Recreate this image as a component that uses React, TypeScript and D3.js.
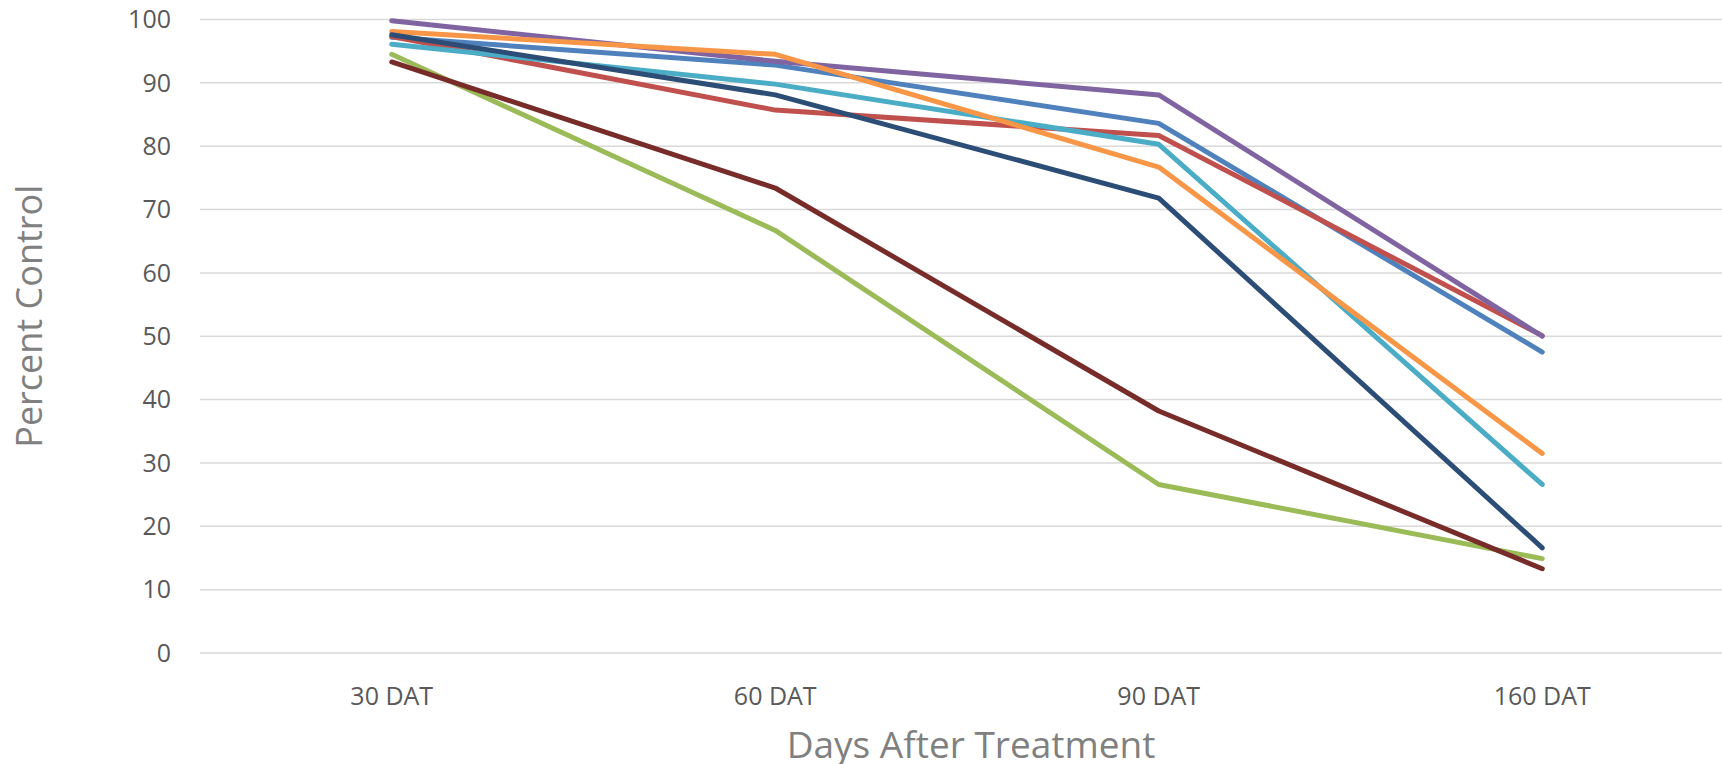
import React from 'react'
import * as d3 from 'd3'

// categories on the x axis
const days = ['30 DAT', '60 DAT', '90 DAT', '160 DAT']
const yTicks = [0, 10, 20, 30, 40, 50, 60, 70, 80, 90, 100]

// series values (percent control), in draw order
const blueVals = [97.2, 92.8, 83.6, 47.5]
const redVals = [97.3, 85.7, 81.7, 50.1]
const greenVals = [94.5, 66.7, 26.6, 14.9]
const purpleVals = [99.8, 93.4, 88.1, 50.0]
const tealVals = [96.1, 89.8, 80.3, 26.6]
const orangeVals = [98.1, 94.5, 76.7, 31.5]
const navyVals = [97.6, 88.1, 71.8, 16.6]
const maroonVals = [93.3, 73.4, 38.2, 13.3]

const series = [
  { values: blueVals, color: '#4F81BD' },
  { values: redVals, color: '#C0504D' },
  { values: greenVals, color: '#9BBB59' },
  { values: purpleVals, color: '#8064A2' },
  { values: tealVals, color: '#4BACC6' },
  { values: orangeVals, color: '#F79646' },
  { values: navyVals, color: '#2C4D75' },
  { values: maroonVals, color: '#772C2A' },
]

const W = 1722
const H = 764
const font = '"Open Sans", "Noto Sans", sans-serif'

export default function App() {
  // the plot area runs a little past the right edge of the picture
  const x = d3.scaleBand().domain(days).range([200, 1734])
  const y = d3.scaleLinear().domain([0, 100]).range([653, 19.5])
  const cx = (d: string) => (x(d) as number) + x.bandwidth() / 2

  const line = d3.line<number>()
    .x((_, i) => cx(days[i]))
    .y(v => y(v))

  return (
    <svg width={W} height={H} style={{ position: 'absolute', left: 0, top: 0, background: 'white' }}>
      {/* gridlines */}
      <g>
        {yTicks.map(t => (
          <line key={t} x1={200} x2={W} y1={y(t)} y2={y(t)} stroke="#D9D9D9" strokeWidth={1.5} />
        ))}
      </g>
      {/* y tick labels */}
      <g fontFamily={font} fontSize={25} fill="#595959" textAnchor="end">
        {yTicks.map(t => (
          <text key={t} x={171} y={y(t)} dy="0.35em">{t}</text>
        ))}
      </g>
      {/* x tick labels */}
      <g fontFamily={font} fontSize={25} fill="#595959" textAnchor="middle">
        {days.map(d => (
          <text key={d} x={cx(d)} y={696} dy="0.35em">{d}</text>
        ))}
      </g>
      {/* lines */}
      <g fill="none" strokeWidth={5} strokeLinecap="round" strokeLinejoin="round">
        {series.map((s, i) => (
          <path key={i} d={line(s.values) || ''} stroke={s.color} />
        ))}
      </g>
      {/* axis titles */}
      <text x={971} y={745} dy="0.35em" textAnchor="middle" fontFamily={font} fontSize={37} fill="#808080">
        Days After Treatment
      </text>
      <text transform={`translate(29, ${y(50) - 20}) rotate(-90)`} dy="0.35em" textAnchor="middle"
        fontFamily={font} fontSize={36} fill="#808080">
        Percent Control
      </text>
    </svg>
  )
}
